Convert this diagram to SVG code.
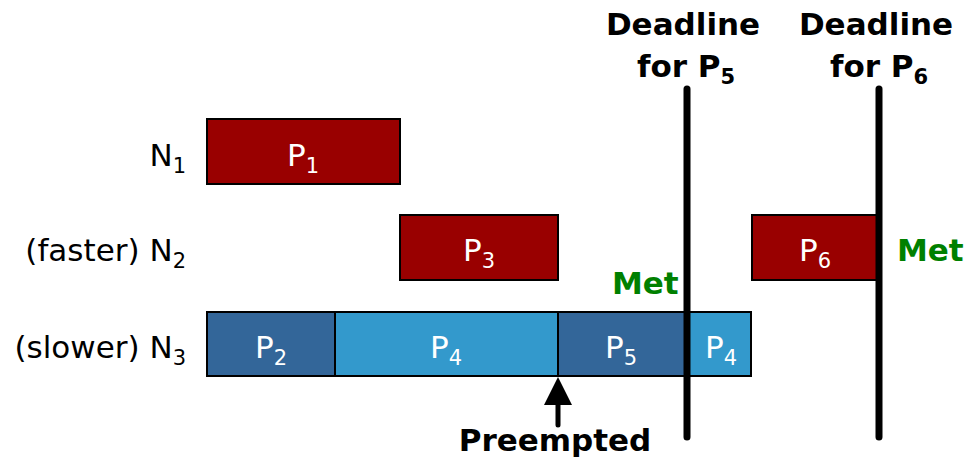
<svg xmlns="http://www.w3.org/2000/svg" width="966" height="460" viewBox="0 0 966 460">
  <style>
    text { font-family: "DejaVu Sans", Tahoma, Verdana, sans-serif; }
    .task { stroke: #000; stroke-width: 2; }
    .red { fill: #990000; }
    .dark { fill: #336699; }
    .light { fill: #3399CC; }
    .in { fill: #fff; font-size: 31px; text-anchor: middle; }
    .row { fill: #000; font-size: 31px; text-anchor: end; }
    .sub { font-size: 21px; }
    .bold { font-weight: bold; fill: #000; font-size: 31px; text-anchor: middle; }
    .met { font-weight: bold; fill: #008000; font-size: 31px; }
    .deadline { stroke: #000; stroke-width: 7; stroke-linecap: round; }
  </style>

  <!-- row labels -->
  <g id="label-n1"><text class="row" x="186" y="166">N<tspan class="sub" dy="7">1</tspan></text></g>
  <g id="label-n2"><text class="row" x="186" y="261">(faster) N<tspan class="sub" dy="7">2</tspan></text></g>
  <g id="label-n3"><text class="row" x="186" y="358">(slower) N<tspan class="sub" dy="7">3</tspan></text></g>

  <!-- N1 -->
  <g id="p1"><rect class="task red" x="207" y="119" width="193" height="65"/><text class="in" x="303" y="166">P<tspan class="sub" dy="7">1</tspan></text></g>

  <!-- N2 -->
  <g id="p3"><rect class="task red" x="400" y="215" width="158" height="65"/><text class="in" x="479" y="261">P<tspan class="sub" dy="7">3</tspan></text></g>
  <g id="p6"><rect class="task red" x="752" y="215" width="127" height="65"/><text class="in" x="815" y="261">P<tspan class="sub" dy="7">6</tspan></text></g>

  <!-- N3 -->
  <g id="p2"><rect class="task dark" x="207" y="312" width="128" height="64"/><text class="in" x="271" y="358">P<tspan class="sub" dy="7">2</tspan></text></g>
  <g id="p4a"><rect class="task light" x="335" y="312" width="223" height="64"/><text class="in" x="446" y="358">P<tspan class="sub" dy="7">4</tspan></text></g>
  <g id="p5"><rect class="task dark" x="558" y="312" width="129" height="64"/><text class="in" x="621" y="358">P<tspan class="sub" dy="7">5</tspan></text></g>
  <g id="p4b"><rect class="task light" x="687" y="312" width="64" height="64"/><text class="in" x="721" y="358">P<tspan class="sub" dy="7">4</tspan></text></g>

  <!-- deadlines -->
  <g id="connectors">
    <line class="deadline" x1="687" y1="89" x2="687" y2="437"/>
    <line class="deadline" x1="879" y1="89" x2="879" y2="437"/>
    <!-- preemption arrow -->
    <polygon points="558,377 544,405 572,405" fill="#000"/>
    <line x1="558" y1="400" x2="558" y2="425" stroke="#000" stroke-width="5" stroke-linecap="round"/>
  </g>

  <g id="deadline-p5-label">
    <text class="bold" x="683" y="35">Deadline</text>
    <text class="bold" x="686" y="77">for P<tspan class="sub" dy="7">5</tspan></text>
  </g>
  <g id="deadline-p6-label">
    <text class="bold" x="876" y="35">Deadline</text>
    <text class="bold" x="879" y="77">for P<tspan class="sub" dy="7">6</tspan></text>
  </g>

  <g id="met-p5"><text class="met" x="612" y="294">Met</text></g>
  <g id="met-p6"><text class="met" x="897" y="261">Met</text></g>

  <g id="preempted"><text class="bold" x="555" y="451">Preempted</text></g>
</svg>
